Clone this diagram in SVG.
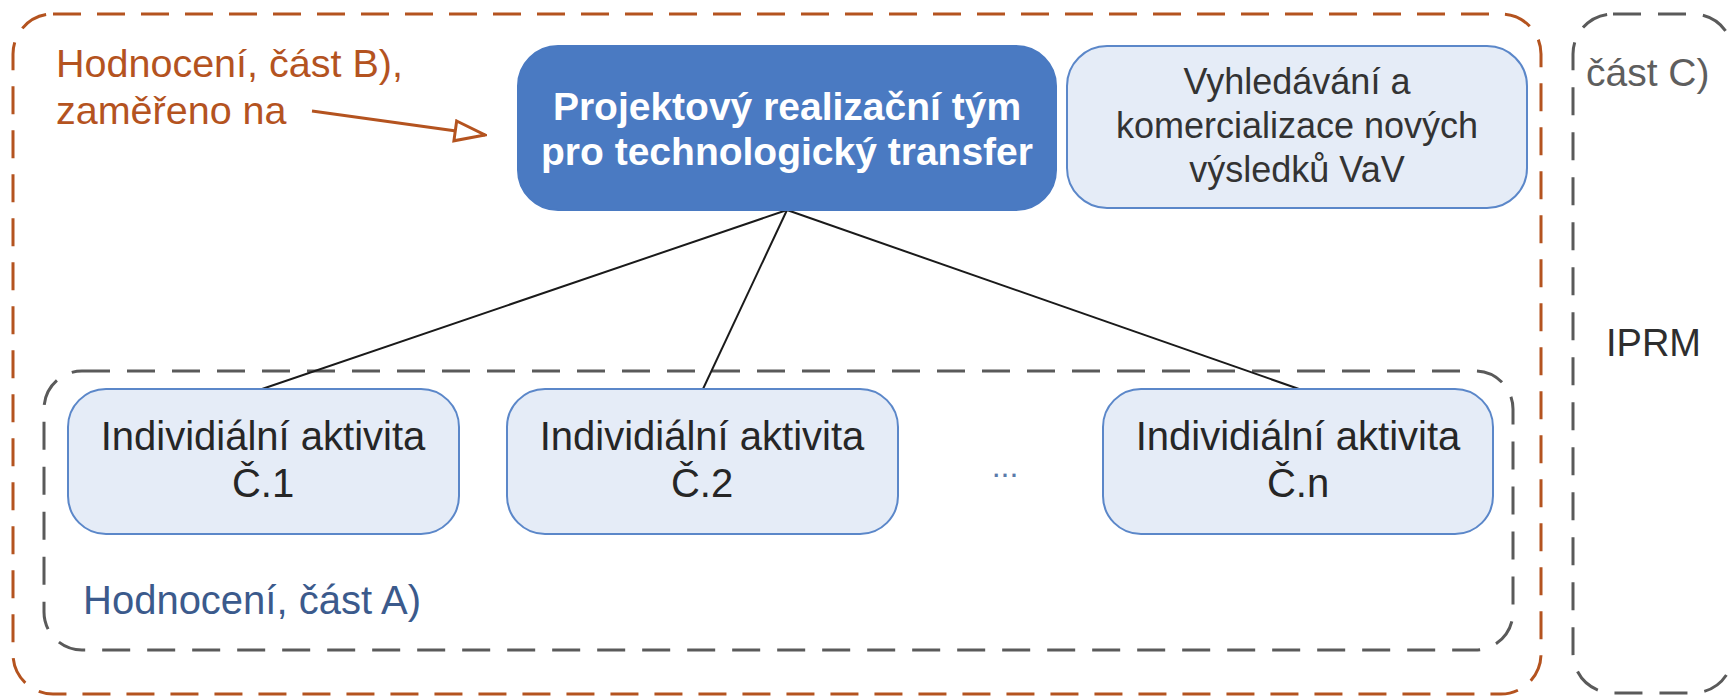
<svg xmlns="http://www.w3.org/2000/svg" width="1729" height="696" viewBox="0 0 1729 696">
  <style>
    text { font-family: "Liberation Sans", Arial, sans-serif; }
    .frameB { fill: none; stroke: #b4531f; stroke-width: 3; stroke-dasharray: 28 16; }
    .frameG { fill: none; stroke: #5a5a5a; stroke-width: 3; stroke-dasharray: 28 17; }
    .light { fill: #e5ecf7; stroke: #5b87c9; stroke-width: 2; }
    .main { fill: #4a7ac2; stroke: #4a7ac2; stroke-width: 2; }
    .conn { stroke: #1a1a1a; stroke-width: 2; fill: none; }
    .dark { fill: #262626; font-size: 40px; text-anchor: middle; }
  </style>
  <defs>
    <marker id="openArrow" markerWidth="34" markerHeight="24" refX="32" refY="12" orient="auto" markerUnits="userSpaceOnUse">
      <path d="M2,2 L32,12 L2,22 Z" fill="#ffffff" stroke="#b4531f" stroke-width="3" stroke-linejoin="miter"/>
    </marker>
  </defs>

  <g id="frame-B">
    <rect class="frameB" x="13" y="14" width="1528" height="680" rx="40" ry="40"/>
    <text x="56" y="77" font-size="39.5" fill="#b4531f">Hodnocení, část B),</text>
    <text x="56" y="124" font-size="39.5" fill="#b4531f">zaměřeno na</text>
  </g>

  <g id="frame-C">
    <rect class="frameG" x="1573" y="14" width="160" height="679" rx="40" ry="40"/>
    <text x="1586" y="86" font-size="39" fill="#5e5e5e">část C)</text>
    <text x="1606" y="356" font-size="38" fill="#2e2e2e">IPRM</text>
  </g>

  <g id="frame-A">
    <rect class="frameG" x="44" y="371" width="1469" height="279" rx="38" ry="38"/>
    <text x="83" y="614" font-size="40" fill="#3b5a8c">Hodnocení, část A)</text>
    <text x="1005" y="477" font-size="32" fill="#5a7aaa" text-anchor="middle">...</text>
  </g>

  <g id="connectors">
    <line class="conn" x1="787" y1="210" x2="262" y2="389"/>
    <line class="conn" x1="787" y1="210" x2="703" y2="389"/>
    <line class="conn" x1="787" y1="210" x2="1299" y2="389"/>
    <line x1="312" y1="111" x2="485" y2="135" stroke="#b4531f" stroke-width="3" marker-end="url(#openArrow)"/>
  </g>

  <g id="node-team">
    <rect class="main" x="518" y="46" width="538" height="164" rx="40" ry="40"/>
    <text x="787" y="120" font-size="39" font-weight="bold" fill="#ffffff" text-anchor="middle">Projektový realizační tým</text>
    <text x="787" y="165" font-size="39" font-weight="bold" fill="#ffffff" text-anchor="middle">pro technologický transfer</text>
  </g>

  <g id="node-search">
    <rect class="light" x="1067" y="46" width="460" height="162" rx="40" ry="40"/>
    <text x="1297" y="94" font-size="36" fill="#333333" text-anchor="middle">Vyhledávání a</text>
    <text x="1297" y="138" font-size="36" fill="#333333" text-anchor="middle">komercializace nových</text>
    <text x="1297" y="182" font-size="36" fill="#333333" text-anchor="middle">výsledků VaV</text>
  </g>

  <g id="node-act1">
    <rect class="light" x="68" y="389" width="391" height="145" rx="38" ry="38"/>
    <text class="dark" x="263" y="450">Individiální aktivita</text>
    <text class="dark" x="263" y="497">Č.1</text>
  </g>

  <g id="node-act2">
    <rect class="light" x="507" y="389" width="391" height="145" rx="38" ry="38"/>
    <text class="dark" x="702" y="450">Individiální aktivita</text>
    <text class="dark" x="702" y="497">Č.2</text>
  </g>

  <g id="node-actn">
    <rect class="light" x="1103" y="389" width="390" height="145" rx="38" ry="38"/>
    <text class="dark" x="1298" y="450">Individiální aktivita</text>
    <text class="dark" x="1298" y="497">Č.n</text>
  </g>
</svg>
